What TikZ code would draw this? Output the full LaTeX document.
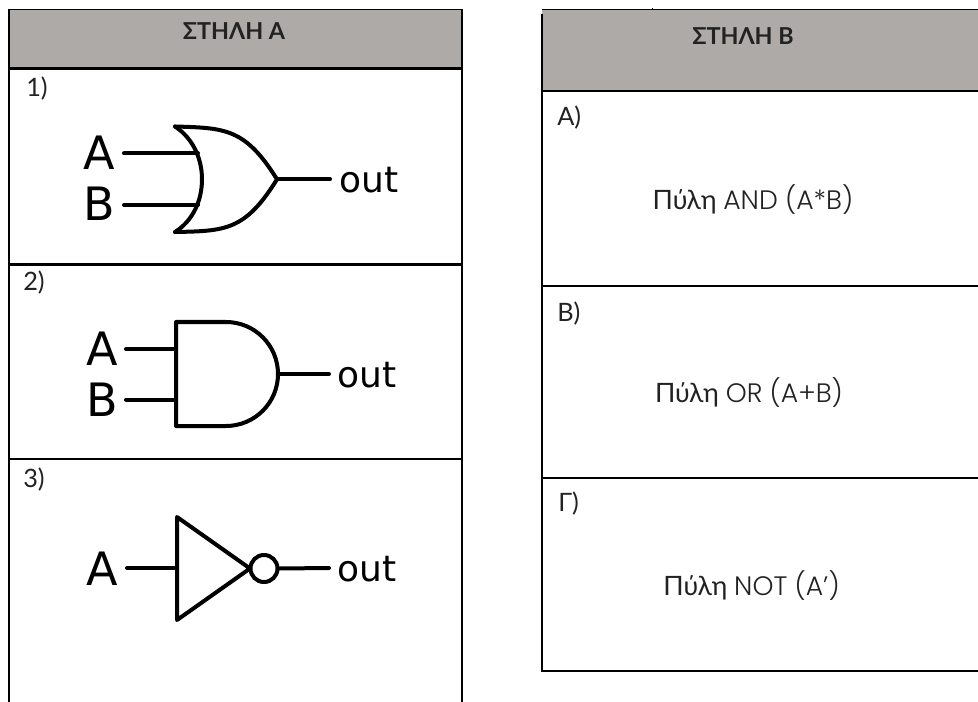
\documentclass[tikz,border=0pt]{standalone}
\usepackage{fontspec}
\setmainfont{Lato}
\newfontfamily\gatefont{DejaVu Sans}
\newfontfamily\latinfont{Poppins Light}
\definecolor{headgray}{HTML}{AEAAA8}
\definecolor{inktext}{HTML}{222222}
\tikzset{
  frame/.style={draw=black,line width=2.1pt*0.75,line cap=rect},
  headrule/.style={draw=black,line width=0.8pt},
  gateline/.style={draw=black,line width=4*0.75pt,line cap=round,line join=round},
  headtext/.style={anchor=base,inner sep=0pt,font=\fontsize{17.5pt}{20pt}\selectfont\bfseries,text=inktext},
  celltext/.style={anchor=base west,inner sep=0pt,font=\fontsize{19pt}{21pt}\selectfont,text=inktext},
  gatetext/.style={anchor=base,inner sep=0pt,font=\fontsize{20pt}{22pt}\selectfont,text=inktext},
  bigpin/.style={anchor=base,inner sep=0pt,font=\gatefont\fontsize{34.5pt}{36pt}\selectfont,text=black},
  outpin/.style={anchor=base,inner sep=0pt,font=\gatefont\fontsize{27pt}{29pt}\selectfont,text=black},
}
\begin{document}
\begin{tikzpicture}[x=0.75pt,y=-0.75pt]
\useasboundingbox (0,0) rectangle (978,702);
% left table
\fill[headgray] (9,10) rectangle (462,68.5);
\draw[headrule] (9,9.7) -- (462,9.7);
\draw[frame] (9,10) -- (9,702);
\draw[frame] (462,10) -- (462,702);
\draw[frame] (9,68.5) -- (462,68.5);
\draw[frame] (9,264.5) -- (462,264.5);
\draw[frame] (9,459) -- (462,459);
% right table
\fill[headgray] (542,10) rectangle (978,91);
\draw[headrule] (542,9.7) -- (978,9.7);
\draw[headrule] (652.3,8) -- (652.3,10);
\draw[frame] (542,15) -- (542,670.7);
\draw[frame] (542,91) -- (978,91);
\draw[frame] (542,286) -- (978,286);
\draw[frame] (542,477.8) -- (978,477.8);
\draw[frame] (542,670.7) -- (978,670.7);
% headers
\node[headtext] (ha) at (234,40) {ΣΤΗΛΗ Α};
\node[headtext] (hb) at (743,44.5) {ΣΤΗΛΗ Β};
% row labels
\node[celltext] (n1) at (26,97) {1)};
\node[celltext] (n2) at (23,291) {2)};
\node[celltext] (n3) at (23,487) {3)};
\node[celltext] (la) at (557,126) {Α)};
\node[celltext] (lb) at (557,321) {Β)};
\node[celltext] (lg) at (558,511) {Γ)};
% right-hand texts
\node[gatetext] (ta) at (753,210) {Πύλη {\latinfont AND (A*B)}};
\node[gatetext] (tb) at (749,402) {Πύλη {\latinfont OR (A+B)}};
\node[gatetext] (tc) at (751.6,595.5) {Πύλη {\latinfont NOT (A’)}};
% OR gate
\coordinate (ortop) at (175,126.5);
\coordinate (orbot) at (175,232);
\coordinate (ortip) at (277,179.3);
\draw[gateline] (ortop) .. controls (194,139) and (202,160) .. (202,179.3) .. controls (202,199) and (194,220) .. (orbot);
\draw[gateline] (ortop) .. controls (225,128) and (245,128) .. (ortip) .. controls (245,231) and (225,231) .. (orbot);
\node[bigpin] (ora) at (99,170) {A};
\node[bigpin] (orb) at (99.5,221) {B};
\node[outpin] (orout) at (369,192.5) {out};
\coordinate (orai) at (124,153.5);
\coordinate (orao) at (198,153.5);
\coordinate (orbi) at (124,205);
\coordinate (orbo) at (198,205);
\coordinate (oroe) at (330,179.3);
\draw[gateline] (orai) -- (orao);
\draw[gateline] (orbi) -- (orbo);
\draw[gateline] (ortip) -- (oroe);
% AND gate
\coordinate (andtl) at (176,322);
\coordinate (andbl) at (176,426);
\coordinate (andtip) at (278,374);
\draw[gateline] (andtl) -- (226,322) arc[start angle=-90,end angle=90,radius=52] -- (andbl) -- cycle;
\node[bigpin] (anda) at (102,365) {A};
\node[bigpin] (andb) at (102,416) {B};
\node[outpin] (andout) at (367,387.5) {out};
\coordinate (andai) at (126,349);
\coordinate (andaj) at (176,349);
\coordinate (andbi) at (126,399.5);
\coordinate (andbj) at (176,399.5);
\coordinate (andoe) at (329,374);
\draw[gateline] (andai) -- (andaj);
\draw[gateline] (andbi) -- (andbj);
\draw[gateline] (andtip) -- (andoe);
% NOT gate
\coordinate (nott) at (177,517);
\coordinate (notb) at (177,620);
\coordinate (nottip) at (250,568.5);
\draw[gateline] (nott) -- (nottip) -- (notb) -- cycle;
\node[gateline,circle,minimum size=27*0.75pt,inner sep=0pt] (bub) at (264,568.5) {};
\node[bigpin] (nota) at (102.5,585) {A};
\node[outpin] (notout) at (367,581.5) {out};
\coordinate (notai) at (127,568);
\coordinate (notaj) at (177,568);
\coordinate (notoe) at (329,568);
\draw[gateline] (notai) -- (notaj);
\draw[gateline] (bub.east) -- (notoe);
\end{tikzpicture}
\end{document}
